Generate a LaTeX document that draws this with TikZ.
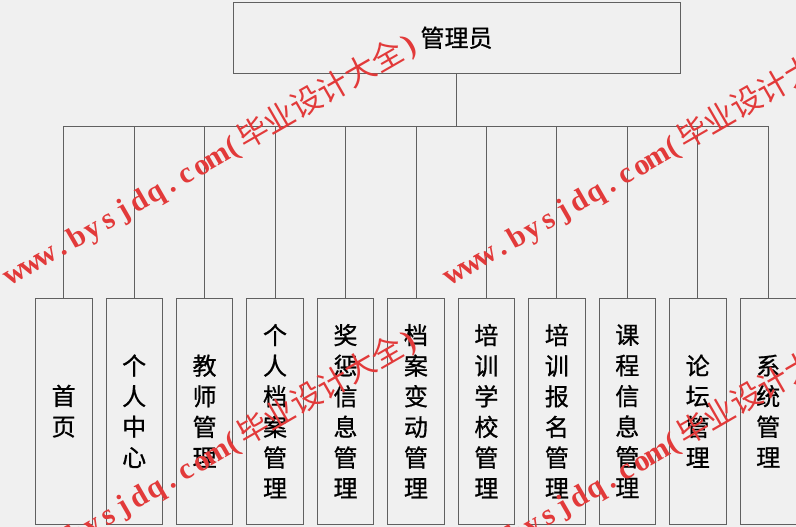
\documentclass[tikz,border=0pt]{standalone}
\usepackage{fontspec}
\newfontfamily\cjk{Noto Sans CJK SC}[FakeBold=0.8]
\newfontfamily\cjkwm{Noto Sans CJK SC}
\newfontfamily\wmlat{Liberation Serif}
\definecolor{bg}{HTML}{F0F0F0}
\definecolor{ln}{HTML}{606060}
\definecolor{wm}{HTML}{E23A3A}
\newcommand\wmmono[1]{\wmmonoaux#1\relax}
\def\wmmonoaux#1{\ifx\relax#1\else\makebox[18pt]{#1}\expandafter\wmmonoaux\fi}
\newcommand\wmtext{{\wmlat\bfseries\fontsize{30}{30}\selectfont\wmmono{www.bysjdq.com(}}{\cjkwm\fontsize{31}{31}\selectfont 毕业设计大全}{\wmlat\bfseries\fontsize{30}{30}\selectfont\wmmono{)}}}
\begin{document}
\begin{tikzpicture}[x=1pt,y=-1pt,
  box/.style={draw=ln, line width=0.8pt, fill=bg, rectangle, inner sep=0pt, align=center,
    font=\cjk\fontsize{24}{30.6}\selectfont, text=black},
  leaf/.style={box, minimum width=56.5pt, minimum height=225.7pt},
  conn/.style={draw=ln, line width=0.8pt},
  wmark/.style={anchor=base west, rotate=30, inner sep=0pt, text=wm}]
\useasboundingbox (0,0) rectangle (796,527);
\fill[bg] (0,0) rectangle (796,527);
\node[box, minimum width=447pt, minimum height=70.5pt] (top) at (456.5,37.75) {管理员};
\coordinate (bus) at (456.5,126);
\foreach \i/\t in {0/{首\\页},1/{个\\人\\中\\心},2/{教\\师\\管\\理},3/{个\\人\\档\\案\\管\\理},
  4/{奖\\惩\\信\\息\\管\\理},5/{档\\案\\变\\动\\管\\理},6/{培\\训\\学\\校\\管\\理},
  7/{培\\训\\报\\名\\管\\理},8/{课\\程\\信\\息\\管\\理},9/{论\\坛\\管\\理},10/{系\\统\\管\\理}}{
  \node[leaf] (n\i) at ({63.7+70.45*\i},411.2) {\t};
}
\draw[conn] (top.south) -- (bus);
\foreach \i in {0,...,10}{
  \draw[conn] (bus) -| (n\i.north);
}
\begin{scope}
\clip (0,0) rectangle (796,527);
\node[wmark] (wa) at (11,286) {\wmtext};
\node[wmark] (wb) at (451,286) {\wmtext};
\node[wmark] (wc) at (11,582) {\wmtext};
\node[wmark] (wd) at (451,582) {\wmtext};
\end{scope}
\end{tikzpicture}
\end{document}
